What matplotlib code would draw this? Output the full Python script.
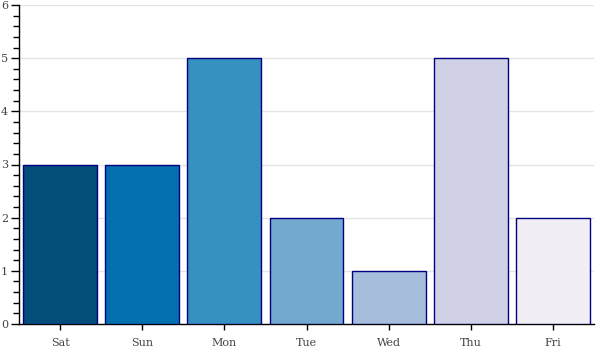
import matplotlib
matplotlib.use("Agg")
from matplotlib import pyplot as plt
from matplotlib.ticker import MultipleLocator

days = ["Sat", "Sun", "Mon", "Tue", "Wed", "Thu", "Fri"]
counts = [3, 3, 5, 2, 1, 5, 2]
colors = ["#034e7b", "#0570b0", "#3690c0", "#74a9cf", "#a6bddb", "#d0d1e6", "#f1eef6"]

plt.rcParams["font.family"] = "DejaVu Serif"

fig = plt.figure(figsize=(6, 3.5), dpi=100)
ax = fig.add_axes([19 / 600, 26 / 350, 575 / 600, 319 / 350])

x = list(range(len(days)))
ax.bar(x, counts, width=0.9, color=colors, edgecolor="navy", linewidth=1, zorder=3)

ax.set_xlim(-0.5, len(days) - 0.5)
ax.set_ylim(0, 6)
ax.set_xticks(x)
ax.set_xticklabels(days)
ax.yaxis.set_major_locator(MultipleLocator(1))
ax.yaxis.set_minor_locator(MultipleLocator(0.2))

ax.grid(axis="y", color="#e5e5e5", linewidth=1, zorder=0)
for side in ["top", "right"]:
    ax.spines[side].set_visible(False)
ax.spines["left"].set_linewidth(1)
ax.spines["bottom"].set_linewidth(1)

ax.tick_params(axis="both", which="major", labelsize=8, labelcolor="#444444",
               length=6, width=1, direction="out")
ax.tick_params(axis="y", which="minor", length=4, width=1, direction="out")
ax.tick_params(axis="x", which="major", direction="inout", length=8, pad=6)
ax.tick_params(axis="y", which="major", pad=2)

fig.savefig("out.png", dpi=100)
